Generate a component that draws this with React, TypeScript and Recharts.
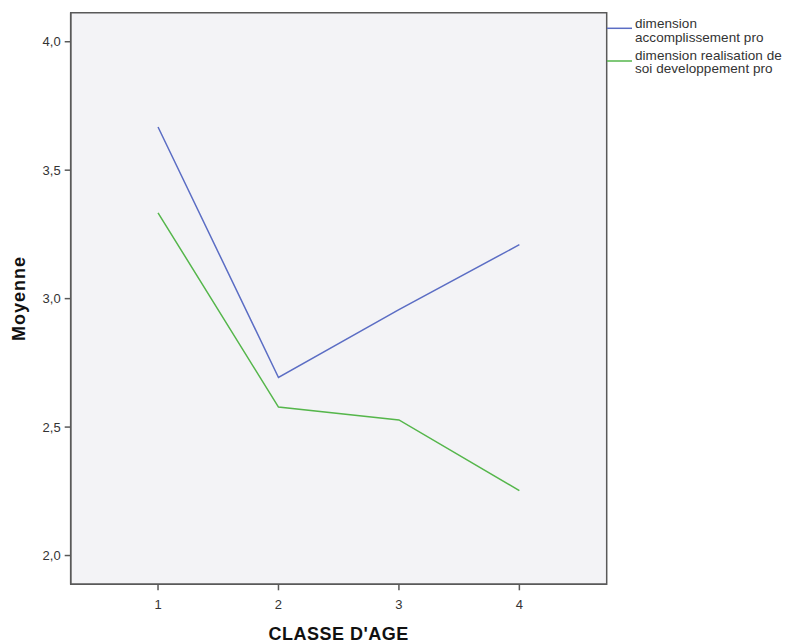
import { LineChart, Line, XAxis, YAxis, ReferenceArea, Legend } from 'recharts';

// age classes on the x axis
const ageClasses = [1, 2, 3, 4];
// mean score per age class
const accomplissementPro = [3.668, 2.693, 2.957, 3.21];
const realisationSoi = [3.334, 2.578, 2.528, 2.253];

const yTicks = [2.0, 2.5, 3.0, 3.5, 4.0];
const xTicks = [1, 2, 3, 4];

const series = [
  { key: 'accomplissement', lines: ['dimension', 'accomplissement pro'], color: '#5b6dc4' },
  { key: 'realisation', lines: ['dimension realisation de', 'soi developpement pro'], color: '#55b64b' },
];

const data = ageClasses.map((age, i) => ({
  age,
  accomplissement: accomplissementPro[i],
  realisation: realisationSoi[i],
}));

const FONT = '"Liberation Sans", Arial, sans-serif';
const FRAME = '#595959';

const X_DOMAIN: [number, number] = [0.275, 4.725];
const Y_DOMAIN: [number, number] = [1.888, 4.113];

function LegendBox() {
  return (
    <svg width={178} height={70} style={{ display: 'block', overflow: 'visible' }}>
      {series.map((s, i) => {
        const top = i * 31.2;
        return (
          <g key={s.key}>
            <line x1={0} x2={25} y1={top + 14.3 + i * 1.5} y2={top + 14.3 + i * 1.5} stroke={s.color} strokeWidth={1.5} />
            {s.lines.map((t, j) => (
              <text
                key={j}
                x={28}
                y={top + 14.3 + j * 13.5}
                fontSize={13.5}
                fill="#333"
                fontFamily={FONT}
                letterSpacing={0.05}
              >
                {t}
              </text>
            ))}
          </g>
        );
      })}
    </svg>
  );
}

export default function App() {
  return (
    <div style={{ position: 'absolute', left: 0, top: 0, width: 786, height: 644, background: '#fff' }}>
      <LineChart
        width={786}
        height={644}
        data={data}
        margin={{ top: 12.7, right: 179.3, bottom: 0, left: 0 }}
      >
        <ReferenceArea
          x1={X_DOMAIN[0]}
          x2={X_DOMAIN[1]}
          y1={Y_DOMAIN[0]}
          y2={Y_DOMAIN[1]}
          fill="#f3f3f6"
          fillOpacity={1}
          stroke={FRAME}
          strokeWidth={1.5}
        />
        <XAxis
          dataKey="age"
          type="number"
          domain={X_DOMAIN}
          ticks={xTicks}
          allowDataOverflow
          height={59.7}
          tickSize={6}
          tickMargin={9}
          axisLine={{ stroke: FRAME, strokeWidth: 1.5 }}
          tickLine={{ stroke: FRAME, strokeWidth: 1.5 }}
          tick={{ fontSize: 13, fill: '#333', fontFamily: FONT }}
          label={{
            value: "CLASSE D'AGE",
            position: 'insideBottom',
            offset: 4,
            style: { fontSize: 18, fontWeight: 'bold', fill: '#111', fontFamily: FONT, letterSpacing: 0.5 },
          }}
        />
        <YAxis
          type="number"
          domain={Y_DOMAIN}
          ticks={yTicks}
          allowDataOverflow
          width={70.7}
          tickSize={6}
          tickMargin={4}
          tickFormatter={(v: number) => v.toFixed(1).replace('.', ',')}
          axisLine={{ stroke: FRAME, strokeWidth: 1.5 }}
          tickLine={{ stroke: FRAME, strokeWidth: 1.5 }}
          tick={{ fontSize: 13, fill: '#333', fontFamily: FONT }}
          label={{
            value: 'Moyenne',
            angle: -90,
            position: 'insideLeft',
            offset: 19,
            style: { textAnchor: 'middle', fontSize: 18, fontWeight: 'bold', fill: '#111', fontFamily: FONT, letterSpacing: 1 },
          }}
        />
        {series.map((s) => (
          <Line
            key={s.key}
            type="linear"
            dataKey={s.key}
            stroke={s.color}
            strokeWidth={1.5}
            dot={false}
            activeDot={false}
            isAnimationActive={false}
          />
        ))}
        <Legend
          layout="horizontal"
          align="center"
          verticalAlign="middle"
          wrapperStyle={{ position: 'absolute', left: 607, top: 14, width: 178, height: 70 }}
          content={() => <LegendBox />}
        />
      </LineChart>
    </div>
  );
}
